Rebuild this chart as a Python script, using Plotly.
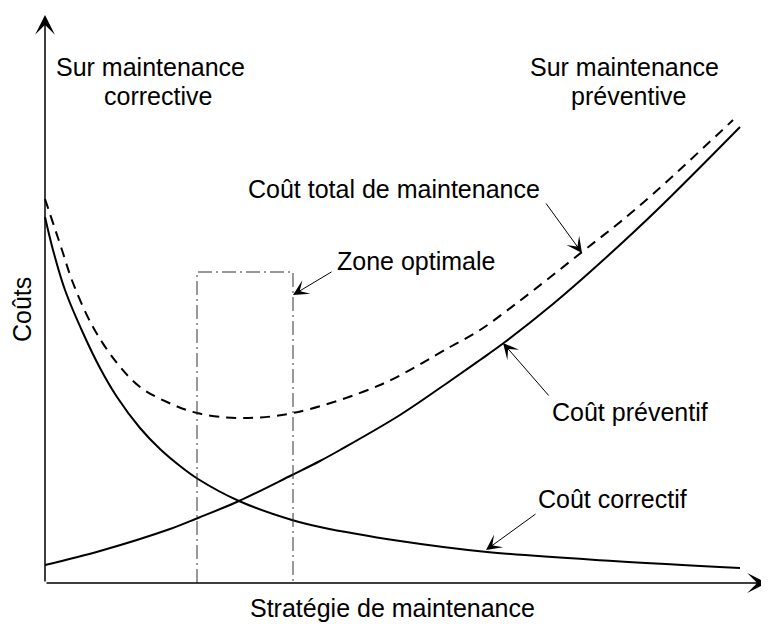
import plotly.graph_objects as go

# strategy axis (x) and costs (y)
prev_x = [0, 55, 125, 153, 194, 247, 275, 295, 355, 405, 435, 460, 508, 555, 612, 695]
prev_y = [18, 32, 54, 65, 82, 108, 122, 133, 168, 202, 223, 241, 279, 320, 373, 456]

corr_x = [0, 8, 20, 38, 55, 72, 95, 115, 135, 153, 194, 247, 275, 355, 442, 568, 695]
corr_y = [366, 333, 293, 250, 215, 186, 155, 134, 117, 104, 82, 63, 56, 42, 31, 22, 15]

total_x = [0, 17, 28, 48, 72, 95, 122, 152, 195, 248, 335, 405, 435, 472, 537, 592, 688]
total_y = [384, 333, 300, 256, 220, 196, 181, 170, 165, 170, 198, 236, 253, 280, 331, 375, 463]

# zone optimale (x0, x1, top)
zone_x = [152, 248]
zone_top = 311

FONT = "Liberation Sans, Arial, sans-serif"
FS = 25

fig = go.Figure()

fig.add_trace(go.Scatter(x=corr_x, y=corr_y, mode="lines", line_shape="spline",
                         line=dict(color="black", width=2), name="Coût correctif"))
fig.add_trace(go.Scatter(x=prev_x, y=prev_y, mode="lines", line_shape="spline",
                         line=dict(color="black", width=2), name="Coût préventif"))
fig.add_trace(go.Scatter(x=total_x, y=total_y, mode="lines", line_shape="spline",
                         line=dict(color="black", width=2, dash="10px,7px"),
                         name="Coût total de maintenance"))

# dash-dot rectangle
fig.add_trace(go.Scatter(x=[zone_x[0], zone_x[0], zone_x[1], zone_x[1]],
                         y=[0, zone_top, zone_top, 0], mode="lines",
                         line=dict(color="#333333", width=1, dash="14px,4px,2px,4px")))

# axis arrows
axis_arrows = [(0, 568, 0, 0), (722, 0, 0, 0)]
for (x, y, ax, ay) in axis_arrows:
    fig.add_annotation(x=x, y=y, ax=ax, ay=ay, xref="x", yref="y", axref="x", ayref="y",
                       text="", showarrow=True, arrowhead=3, arrowsize=2.2,
                       arrowwidth=1.5, arrowcolor="black", standoff=0)

# pointer arrows (tip x, tip y, tail x, tail y)
pointers = [(537, 330, 500, 381), (248, 288, 288, 312),
            (458, 240, 505, 186), (441, 33, 492, 70)]
for (x, y, ax, ay) in pointers:
    fig.add_annotation(x=x, y=y, ax=ax, ay=ay, xref="x", yref="y", axref="x", ayref="y",
                       text="", showarrow=True, arrowhead=3, arrowsize=2.6,
                       arrowwidth=1, arrowcolor="black", standoff=0)

labels = [
    ("Sur maintenance", 105, 516),
    ("corrective", 113, 487),
    ("Sur maintenance", 579, 516),
    ("préventive", 583, 487),
    ("Coût total de maintenance", 349, 394),
    ("Zone optimale", 371, 322),
    ("Coût préventif", 585, 171),
    ("Coût correctif", 567, 84),
    ("Stratégie de maintenance", 347, -25),
]
for (t, x, y) in labels:
    fig.add_annotation(x=x, y=y, xref="x", yref="y", text=t, showarrow=False,
                       xanchor="center", yanchor="middle",
                       font=dict(family=FONT, size=FS, color="black"))

fig.add_annotation(x=-23, y=273, xref="x", yref="y", text="Coûts", showarrow=False,
                   textangle=-90, xanchor="center", yanchor="middle",
                   font=dict(family=FONT, size=FS, color="black"))

# page body has an 8px margin: size/ranges chosen so the drawing fills the window
fig.update_xaxes(range=[-37, 724], visible=False)
fig.update_yaxes(range=[-41, 575], visible=False)
fig.update_layout(width=761, height=616, margin=dict(l=0, r=0, t=0, b=0),
                  showlegend=False, plot_bgcolor="white", paper_bgcolor="white")

fig.write_html("out.html")
